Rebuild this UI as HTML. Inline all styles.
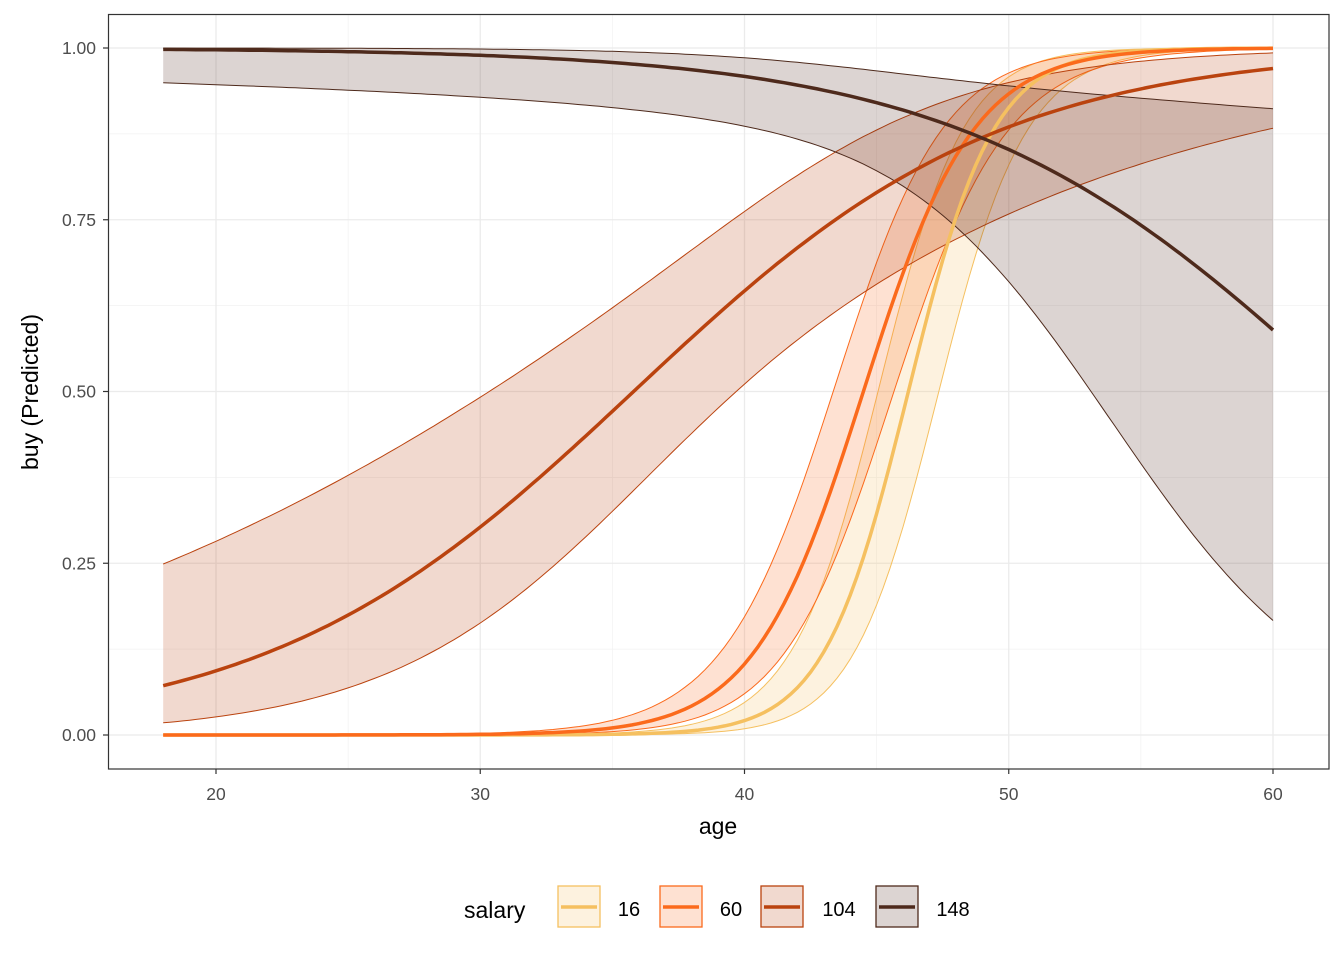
<!DOCTYPE html>
<html><head><meta charset="utf-8"><style>
body{margin:0;background:#fff;width:1344px;height:960px;overflow:hidden}
text{font-family:"Liberation Sans",Arial,sans-serif}
</style></head><body>
<svg id="s" width="1344" height="960" xmlns="http://www.w3.org/2000/svg">
<rect x="0" y="0" width="1344" height="960" fill="#fff"/>
<g id="grid"></g>
<g id="rib"></g>
<g id="lines"></g>
<rect x="108.5" y="14.5" width="1220.5" height="754.5" fill="none" stroke="#333" stroke-width="1.2"/>
<g id="ax" font-size="17.5" fill="#4D4D4D"></g>
<text x="718" y="834" font-size="23" text-anchor="middle" fill="#000">age</text>
<text transform="translate(38,392) rotate(-90)" font-size="23" text-anchor="middle" fill="#000">buy (Predicted)</text>
<text x="464" y="918" font-size="23" fill="#000">salary</text>
<g id="leg"></g>
</svg>
<script>
var NS="http://www.w3.org/2000/svg";
function X(a){return 216+(a-20)*26.425}
function Y(p){return 735-p*687}
function el(parent,tag,attrs,txt){var e=document.createElementNS(NS,tag);for(var k in attrs)e.setAttribute(k,attrs[k]);if(txt!==undefined)e.textContent=txt;document.getElementById(parent).appendChild(e);return e}
[25,35,45,55].forEach(function(a){el("grid","line",{x1:X(a),x2:X(a),y1:14,y2:769,stroke:"#F2F2F2","stroke-width":0.7})});
[0.125,0.375,0.625,0.875].forEach(function(p){el("grid","line",{x1:108,x2:1329,y1:Y(p),y2:Y(p),stroke:"#F2F2F2","stroke-width":0.7})});
[20,30,40,50,60].forEach(function(a){el("grid","line",{x1:X(a),x2:X(a),y1:14,y2:769,stroke:"#EBEBEB","stroke-width":1.3});
 el("grid","line",{x1:X(a),x2:X(a),y1:769,y2:774,stroke:"#333","stroke-width":1.2});
 el("ax","text",{x:X(a),y:800,"text-anchor":"middle"},String(a));});
[0,0.25,0.5,0.75,1].forEach(function(p){el("grid","line",{x1:108,x2:1329,y1:Y(p),y2:Y(p),stroke:"#EBEBEB","stroke-width":1.3});
 el("grid","line",{x1:103,x2:108,y1:Y(p),y2:Y(p),stroke:"#333","stroke-width":1.2});
 el("ax","text",{x:96,y:Y(p)+6,"text-anchor":"end"},p.toFixed(2));});
function inv(z){return 1/(1+Math.exp(-z))}
var S=[
 {m:function(a){return 0.62*(a-46.2)},h:function(a){return Math.sqrt(0.5+0.006*(a-46)*(a-46))},lc:"#F5C060",fc:"#F5C060"},
 {m:function(a){return 0.48*(a-44.5)},h:function(a){return Math.sqrt(0.3+0.003*(a-44)*(a-44))},lc:"#FB6A1C",fc:"#FB6A1C"},
 {m:function(a){return -2.56+0.1438*(a-18)},h:function(a){return Math.sqrt(0.31+0.0041*(a-39)*(a-39))},lc:"#BA430F",fc:"#BA430F"},
 {m:function(a){return 6.2-0.139*(a-18)},h:function(a){return Math.sqrt(0.85+0.0135*(a-45)*(a-45))},lc:"#4E2A1C",fc:"#4E2A1C"}
];
S.forEach(function(s){
 var up=[],lo=[],mid=[];
 for(var a=18;a<=60.0001;a+=0.25){
  var m=s.m(a),h=s.h(a);
  mid.push(X(a).toFixed(1)+","+Y(inv(m)).toFixed(1));
  up.push(X(a).toFixed(1)+","+Y(inv(m+h)).toFixed(1));
  lo.push(X(a).toFixed(1)+","+Y(inv(m-h)).toFixed(1));
 }
 el("rib","polygon",{points:up.concat(lo.slice().reverse()).join(" "),fill:s.fc,"fill-opacity":0.2});
 el("rib","polyline",{points:up.join(" "),fill:"none",stroke:s.lc,"stroke-width":1});
 el("rib","polyline",{points:lo.join(" "),fill:"none",stroke:s.lc,"stroke-width":1});
 s.mid=mid;
});
S.forEach(function(s){el("lines","polyline",{points:s.mid.join(" "),fill:"none",stroke:s.lc,"stroke-width":3.5})});
var L=[[557,"16",629],[659,"60",731],[760,"104",839],[875,"148",953]];
L.forEach(function(l,i){var s=S[i];
 el("leg","rect",{x:l[0]+1,y:886,width:42,height:41,fill:"#fff"});
 el("leg","rect",{x:l[0]+1,y:886,width:42,height:41,fill:s.fc,"fill-opacity":0.2,stroke:s.lc,"stroke-width":1.3});
 el("leg","line",{x1:l[0]+4,x2:l[0]+40,y1:907,y2:907,stroke:s.lc,"stroke-width":3.5});
 el("leg","text",{x:l[2],y:916,"font-size":"20","text-anchor":"middle",fill:"#000"},l[1]);
});
</script>
</body></html>
